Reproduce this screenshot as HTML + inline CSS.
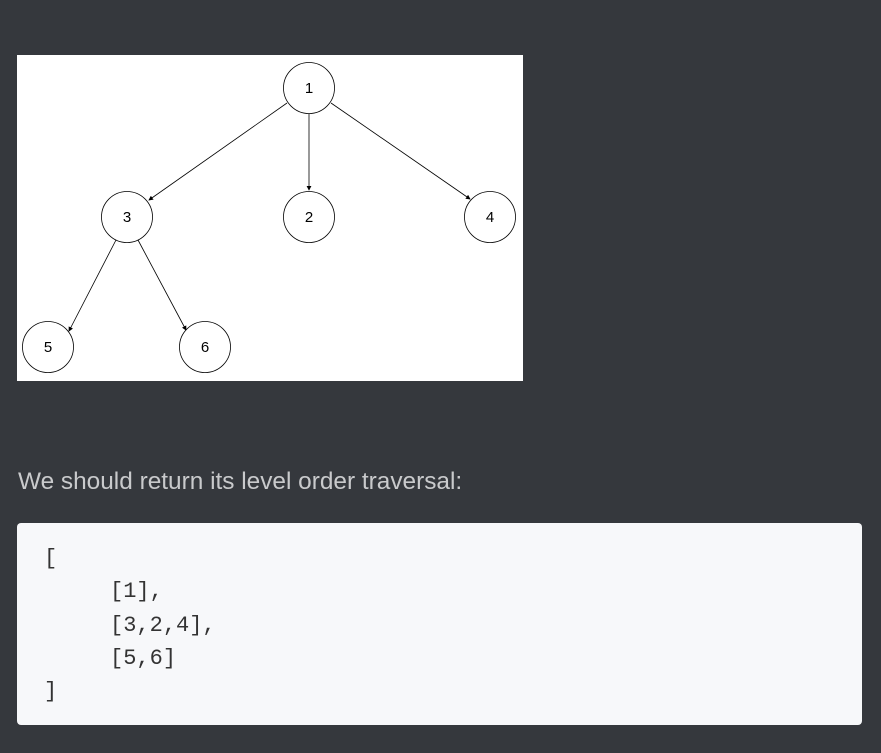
<!DOCTYPE html>
<html><head><style>
body{margin:0;width:881px;height:753px;background:#35383d;position:relative;overflow:hidden;font-family:"Liberation Sans",sans-serif}
.t{position:absolute;left:18px;top:468px;font-size:24.4px;color:#c9cacc;white-space:nowrap}
.code{position:absolute;left:17px;top:523px;width:845px;height:202px;background:#f7f8fa;border-radius:4px}
.code pre{margin:0;position:absolute;left:27px;top:19px;font-family:"Liberation Mono",monospace;font-size:22px;line-height:33.3px;color:#333}
</style></head><body>
<svg style="position:absolute;left:0;top:0" width="881" height="400">
<defs><marker id="a" markerWidth="6" markerHeight="6" refX="5" refY="3" orient="auto"><path d="M0,0L6,3L0,6z" fill="#000"/></marker></defs>
<rect x="17" y="55" width="506" height="326" fill="#fff"/>
<g stroke="#000" stroke-width="0.8" fill="none">
<line x1="287" y1="103" x2="149" y2="200" marker-end="url(#a)"/>
<line x1="309" y1="114" x2="309" y2="190" marker-end="url(#a)"/>
<line x1="331" y1="103" x2="470" y2="199" marker-end="url(#a)"/>
<line x1="116" y1="240" x2="69" y2="331" marker-end="url(#a)"/>
<line x1="138" y1="240" x2="186" y2="330" marker-end="url(#a)"/>
<circle cx="309" cy="88" r="25.5" fill="#fff"/>
<circle cx="127" cy="217" r="25.5" fill="#fff"/>
<circle cx="309" cy="217" r="25.5" fill="#fff"/>
<circle cx="490" cy="217" r="25.5" fill="#fff"/>
<circle cx="48" cy="347" r="25.5" fill="#fff"/>
<circle cx="205" cy="347" r="25.5" fill="#fff"/>
</g>
<g font-family="Liberation Sans,sans-serif" font-size="15" text-anchor="middle" fill="#000">
<text x="309" y="93">1</text><text x="127" y="222">3</text><text x="309" y="222">2</text>
<text x="490" y="222">4</text><text x="48" y="352">5</text><text x="205" y="352">6</text>
</g>
</svg>
<div class="t">We should return its level order traversal:</div>
<div class="code"><pre>[
     [1],
     [3,2,4],
     [5,6]
]</pre></div>
</body></html>
